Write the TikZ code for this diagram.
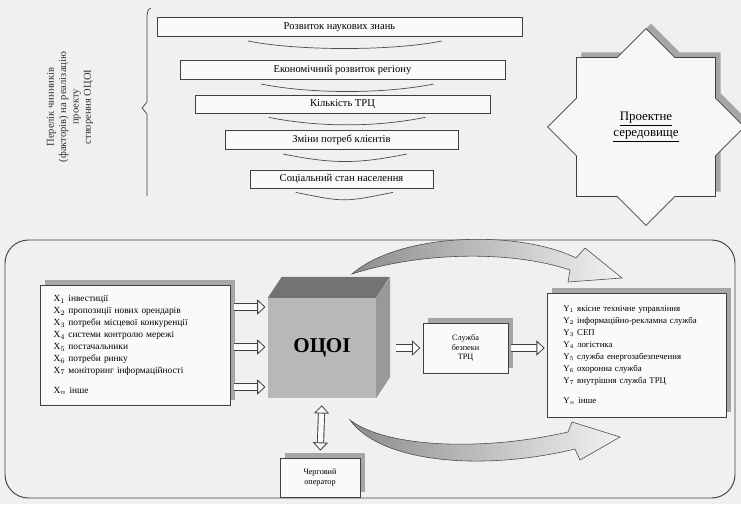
\documentclass[tikz,border=0pt]{standalone}
\usepackage{fontspec}
\setmainfont{Liberation Serif}
\usetikzlibrary{calc,shapes.geometric,shadows,arrows.meta}
\tikzset{
  bx/.style={draw=black!75, line width=0.6pt, fill=black!2},
  fct/.style={bx, minimum height=0.58cm, inner sep=1pt, font=\small},
  shd/.style={drop shadow={shadow xshift=1.5mm, shadow yshift=1.5mm, fill=black!35, opacity=1}},
  lst/.style={bx, shd, align=left},
  hol/.style={draw=black!75, line width=0.8pt, double=black!2, double distance=4.5pt,
    >={Triangle[length=7pt, width=13pt, fill=black!2, line width=0.7pt]}},
  crs/.style={draw=black!70, line width=0.5pt, left color=black!45, right color=black!5}
}
\begin{document}
\begin{tikzpicture}[x=0.03cm, y=-0.03cm]
\useasboundingbox (0,0) rectangle (741,504);
\fill[black!6] (0,0) rectangle (741,504);

\node[rotate=90, align=center, font=\fontsize{9}{10.5}\selectfont, text=black!80] (lbl) at (70,107)
  {Перелік чинників\\(факторів) на реалізацію\\проекту\\створення ОЦОІ};
\draw[black!75, line width=0.6pt] (151,8) .. controls (148,9) .. (147,16) -- (147,102)
  -- (142,108) -- (147,114) -- (147,196);

\node[fct, minimum width=10.95cm] (f1) at (339.5,27) {Розвиток наукових знань};
\node[fct, minimum width=9.75cm] (f2) at (342.5,70) {Економічний розвиток регіону};
\node[fct, minimum width=8.85cm, minimum height=0.54cm] (f3) at (342.5,104) {Кількість ТРЦ};
\node[fct, minimum width=6.99cm] (f4) at (341.5,140) {Зміни потреб клієнтів};
\node[fct, minimum width=5.49cm, minimum height=0.54cm] (f5) at (341.5,179) {Соціальний стан населення};
\foreach \f in {f1,f2,f3,f4,f5}
  \draw[black!70, line width=0.6pt] ($(\f.south west)!0.25!(\f.south east)+(0,4)$)
    .. controls +(50,10) and +(-50,10) .. ($(\f.south west)!0.78!(\f.south east)+(0,4)$);

\node[star, star points=8, star point ratio=1.307, minimum size=5.9cm, inner sep=0pt,
  draw=black!75, line width=0.6pt, fill=black!3, shd, align=center,
  font=\fontsize{11}{14}\selectfont] (env) at (646,127)
  {\underline{Проектне}\\\underline{середовище}};

\draw[black!75, line width=0.8pt, rounded corners=20] (5,240) rectangle (735,498);

\path[crs] (352,274) .. controls (400,232) and (520,230) .. (576,258) -- (585,248) -- (622,278)
  -- (568,282) -- (570,270) .. controls (510,250) and (420,252) .. (352,274) -- cycle;
\path[crs] (350,420) .. controls (385,447) and (480,452) .. (568,432) -- (572,422) -- (620,437)
  -- (580,460) -- (575,449) .. controls (480,472) and (380,462) .. (350,420) -- cycle;

\node[lst, anchor=north west, minimum width=5.7cm, minimum height=3.6cm, inner xsep=0.39cm,
  text width=4.9cm, font=\fontsize{8}{10.2}\selectfont] (inp) at (40,285)
  {X$_1$ інвестиції\\X$_2$ пропозиції нових орендарів\\X$_3$ потреби місцевої конкуренції\\
   X$_4$ системи контролю мережі\\X$_5$ постачальники\\X$_6$ потреби ринку\\
   X$_7$ моніторинг інформаційності\\[7pt]X$_n$ інше};

\node[lst, anchor=north west, minimum width=5.34cm, minimum height=3.72cm, inner xsep=0.48cm,
  text width=4.4cm, font=\fontsize{7.5}{10.2}\selectfont] (out) at (547,293)
  {Y$_1$ якісне технічне управління\\Y$_2$ інформаційно-рекламна служба\\Y$_3$ СЕП\\
   Y$_4$ логістика\\Y$_5$ служба енергозабезпечення\\Y$_6$ охоронна служба\\
   Y$_7$ внутрішня служба ТРЦ\\[7pt]Y$_n$ інше};

\node[fill=black!28, minimum width=3.24cm, minimum height=3cm,
  font=\bfseries\fontsize{18}{20}\selectfont] (ocoi) at (322,348) {ОЦОІ};
\fill[black!55] (ocoi.north west) -- ++(14,-21) -- ++(108,0) -- (ocoi.north east) -- cycle;
\fill[black!40] (ocoi.north east) -- ++(14,-21) -- ++(0,100) -- (ocoi.south east) -- cycle;

\node[bx, shd, minimum width=2.55cm, minimum height=1.5cm, align=center,
  font=\scriptsize] (sb) at (465.5,348) {Служба\\безпеки\\ТРЦ};
\node[bx, shd, minimum width=2.4cm, minimum height=1.17cm, align=center,
  font=\scriptsize] (oper) at (320,477.5) {Черговий\\оператор};

\foreach \y in {307,347,387}
  \draw[hol, ->, shorten <=3pt, shorten >=2pt] (inp.east |- 0,\y) -- (ocoi.west |- 0,\y);
\draw[hol, ->, shorten <=17pt, shorten >=2pt] (ocoi.east) -- (sb.west);
\draw[hol, ->, shorten <=2pt, shorten >=2pt] (sb.east) -- (sb.east -| out.west);
\draw[hol, <->, shorten <=6pt, shorten >=6pt] (ocoi.south) -- (oper.north);
\end{tikzpicture}
\end{document}
